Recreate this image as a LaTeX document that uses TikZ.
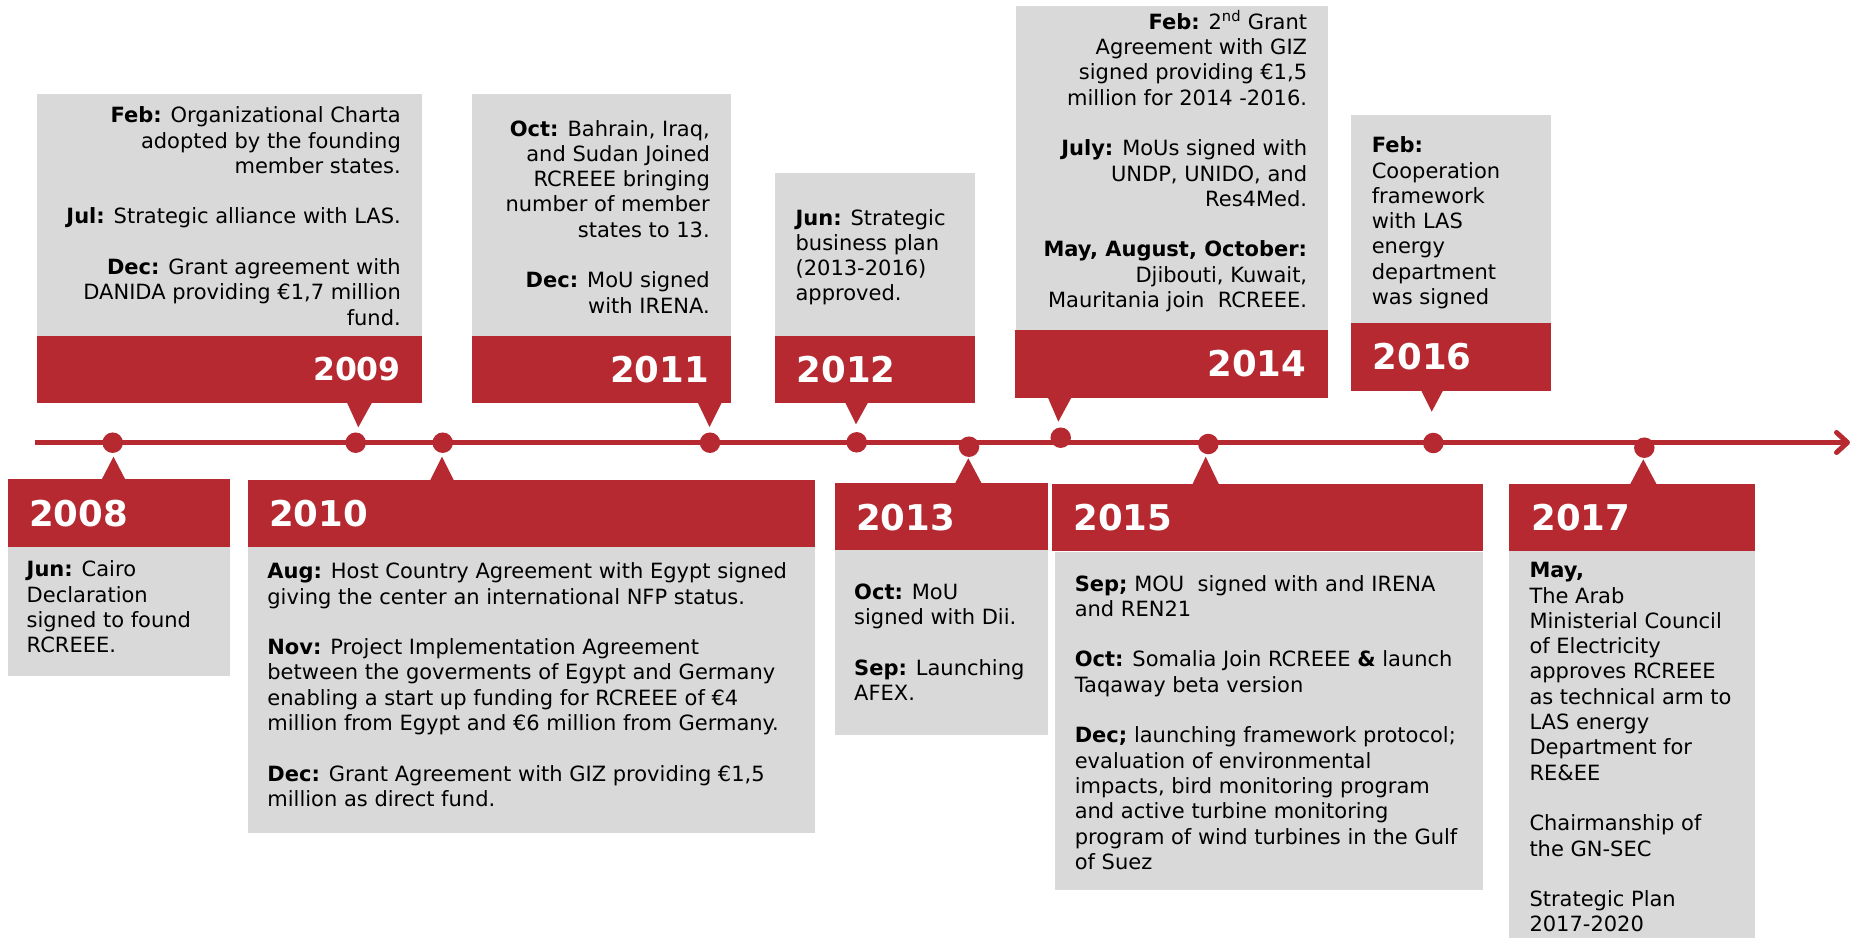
\documentclass[tikz,border=0pt]{standalone}
\usepackage{fontspec}
\setmainfont{DejaVu Sans}
\usetikzlibrary{arrows.meta}
\definecolor{rcred}{RGB}{183,41,48}
\definecolor{rcgray}{RGB}{217,217,217}
\tikzset{
  panel/.style={fill=rcgray},
  band/.style={fill=rcred},
  pointer/.style={fill=rcred},
  dotmark/.style={circle, fill=rcred, inner sep=0pt, minimum size=20.5pt},
  yearlbl/.style={text=white, font=\fontsize{35.5}{40}\selectfont\bfseries, inner sep=0pt},
  smallyear/.style={font=\fontsize{31.5}{36}\selectfont\bfseries},
  body/.style={font=\fontsize{21}{25.3}\selectfont, inner sep=0pt, text=black},
  axis/.style={draw=rcred, line width=5pt, -{Straight Barb[length=11pt,width=20pt,round]}},
}
\begin{document}
\begin{tikzpicture}[x=1pt,y=-1pt]
\useasboundingbox (0,0) rectangle (1853,938);
\fill[white] (0,0) rectangle (1853,938);

% ---------- top boxes ----------
% 2009
\fill[panel] (37,94) rectangle (422,336);
\fill[band] (37,336) rectangle (422,402.7);
% 2011
\fill[panel] (472,94) rectangle (731,336);
\fill[band] (472,336) rectangle (731,402.7);
% 2012
\fill[panel] (775,173) rectangle (975,336);
\fill[band] (775,336) rectangle (975,402.7);
% 2014
\fill[panel] (1016,6) rectangle (1328,330);
\fill[band] (1015,330) rectangle (1328,397.5);
% 2016
\fill[panel] (1351,115) rectangle (1551,322.7);
\fill[band] (1351,322.7) rectangle (1551,390.7);

% ---------- bottom boxes ----------
% 2008
\fill[band] (8,479) rectangle (230,546.7);
\fill[panel] (8,546.7) rectangle (230,675.7);
% 2010
\fill[band] (248.3,480) rectangle (815,546.7);
\fill[panel] (248.3,546.7) rectangle (815,832.7);
% 2013
\fill[band] (835,483) rectangle (1047.5,550);
\fill[panel] (835,550) rectangle (1047.5,735);
% 2015
\fill[band] (1052,484) rectangle (1483,551);
\fill[panel] (1055,552.3) rectangle (1483,890);
% 2017
\fill[band] (1509,484) rectangle (1755,551);
\fill[panel] (1509,551) rectangle (1755,938);

% ---------- axis ----------
\coordinate (axstart) at (35,442.5);
\coordinate (axend) at (1850,442.5);
\draw[axis] (axstart) -- (axend);

% ---------- dots ----------
\node[dotmark] (d2008) at (112.7,442.7) {};
\node[dotmark] (d2009) at (355.7,442.7) {};
\node[dotmark] (d2010) at (442.7,442.7) {};
\node[dotmark] (d2011) at (710,442.7) {};
\node[dotmark] (d2012) at (856.7,442.3) {};
\node[dotmark] (d2013) at (969,446.7) {};
\node[dotmark] (d2014) at (1060.7,437.7) {};
\node[dotmark] (d2015) at (1208.3,444) {};
\node[dotmark] (d2016) at (1433.3,443) {};
\node[dotmark] (d2017) at (1644.3,447.7) {};

% ---------- pointers ----------
\fill[pointer] (346.7,402) -- (372.3,402) -- (358.3,427.3) -- cycle;
\fill[pointer] (697.5,402) -- (722,402) -- (709.5,427) -- cycle;
\fill[pointer] (845,402) -- (868.3,402) -- (856,424.3) -- cycle;
\fill[pointer] (1047.7,397) -- (1071.7,397) -- (1058.3,421.7) -- cycle;
\fill[pointer] (1421,390) -- (1443.3,390) -- (1431.7,411.7) -- cycle;
\fill[pointer] (101.7,479.5) -- (125.3,479.5) -- (113.5,456.7) -- cycle;
\fill[pointer] (430,480.5) -- (454,480.5) -- (442,456.7) -- cycle;
\fill[pointer] (955,483.5) -- (981.7,483.5) -- (968.3,458.3) -- cycle;
\fill[pointer] (1192.3,484.5) -- (1219,484.5) -- (1205.7,456.7) -- cycle;
\fill[pointer] (1630,484.5) -- (1656.7,484.5) -- (1643.3,459.3) -- cycle;

% ---------- year labels ----------
\node[yearlbl, smallyear, anchor=east] (y2009) at (401,369.5) {2009};
\node[yearlbl, anchor=east] (y2011) at (709,369.5) {2011};
\node[yearlbl, anchor=west] (y2012) at (796.5,369.5) {2012};
\node[yearlbl, anchor=east] (y2014) at (1306.5,364) {2014};
\node[yearlbl, anchor=west] (y2016) at (1372.5,357) {2016};
\node[yearlbl, anchor=west] (y2008) at (29,514) {2008};
\node[yearlbl, anchor=west] (y2010) at (268.8,514) {2010};
\node[yearlbl, anchor=west] (y2013) at (856,517.5) {2013};
\node[yearlbl, anchor=west] (y2015) at (1073.3,518) {2015};
\node[yearlbl, anchor=west] (y2017) at (1531.3,518) {2017};

% ---------- texts ----------
\node[body, align=right, anchor=north east] (t2009) at (401,104.8) {\strut\textbf{Feb:} Organizational Charta\\adopted by the founding\\member states.\\[25.3pt]\textbf{Jul:} Strategic alliance with LAS.\\[25.3pt]\textbf{Dec:} Grant agreement with\\DANIDA providing €1,7 million\\fund.};

\node[body, align=right, anchor=north east] (t2011) at (710,118.1) {\strut\textbf{Oct:} Bahrain, Iraq,\\and Sudan Joined\\RCREEE bringing\\number of member\\states to 13.\\[25.3pt]\textbf{Dec:} MoU signed\\with IRENA.};

\node[body, align=left, anchor=north west] (t2012) at (795.4,207.1) {\strut\textbf{Jun:} Strategic\\business plan\\(2013-2016)\\approved.};

\node[body, align=right, anchor=north east] (t2014) at (1307.3,10.3) {\strut\textbf{Feb:} 2\textsuperscript{nd} Grant\\Agreement with GIZ\\signed providing €1,5\\million for 2014 -2016.\\[25.3pt]\textbf{July:} MoUs signed with\\UNDP, UNIDO, and\\Res4Med.\\[25.3pt]\textbf{May, August, October:}\\Djibouti, Kuwait,\\Mauritania join~ RCREEE.};

\node[body, align=left, anchor=north west] (t2016) at (1371.6,134.8) {\strut\textbf{Feb:}\\Cooperation\\framework\\with LAS\\energy\\department\\was signed};

\node[body, align=left, anchor=north west] (t2008) at (26.5,558.8) {\strut\textbf{Jun:} Cairo\\Declaration\\signed to found\\RCREEE.};

\node[body, align=left, anchor=north west] (t2010) at (267.2,560.8) {\strut\textbf{Aug:} Host Country Agreement with Egypt signed\\giving the center an international NFP status.\\[25.3pt]\textbf{Nov:} Project Implementation Agreement\\between the goverments of Egypt and Germany\\enabling a start up funding for RCREEE of €4\\million from Egypt and €6 million from Germany.\\[25.3pt]\textbf{Dec:} Grant Agreement with GIZ providing €1,5\\million as direct fund.};

\node[body, align=left, anchor=north west] (t2013) at (854,581.5) {\strut\textbf{Oct:} MoU\\signed with Dii.\\[25.3pt]\textbf{Sep:} Launching\\AFEX.};

\node[body, align=left, anchor=north west] (t2015) at (1074.6,573.1) {\strut\textbf{Sep;} MOU~ signed with and IRENA\\and REN21\\[25.3pt]\textbf{Oct:} Somalia Join RCREEE \textbf{\&} launch\\Taqaway beta version\\[25.3pt]\textbf{Dec;} launching framework protocol;\\evaluation of environmental\\impacts, bird monitoring program\\and active turbine monitoring\\program of wind turbines in the Gulf\\of Suez};

\node[body, align=left, anchor=north west] (t2017) at (1529.3,559.8) {\strut\textbf{May,}\\The Arab\\Ministerial Council\\of Electricity\\approves RCREEE\\as technical arm to\\LAS energy\\Department for\\RE\&EE\\[25.3pt]Chairmanship of\\the GN-SEC\\[25.3pt]Strategic Plan\\2017-2020};
\end{tikzpicture}
\end{document}
